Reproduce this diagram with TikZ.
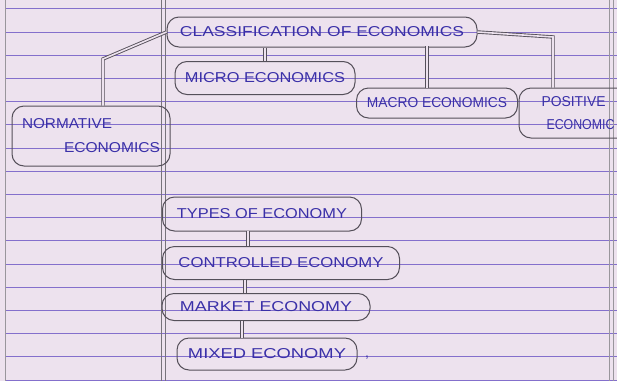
\documentclass[tikz,border=0pt]{standalone}
\usepackage{fontspec}
\setmainfont{Liberation Sans}
\usepackage{graphicx}
\definecolor{paper}{HTML}{EDE2EE}
\definecolor{rule}{HTML}{8470CC}
\definecolor{ink}{HTML}{3A30A8}
\definecolor{pencil}{HTML}{55505A}
\newcommand{\hw}[2]{\resizebox{#1pt}{10pt}{#2}}
\tikzset{
  blob/.style={draw=pencil, line width=1pt, rounded corners=12pt, inner sep=0pt, text=ink, align=center},
  conn/.style={draw=pencil, line width=0.9pt, double=paper, double distance=1.6pt},
  ruled/.style={draw=rule, line width=1pt},
  margin/.style={draw=pencil!80, line width=0.9pt}
}
\begin{document}
\begin{tikzpicture}[x=1pt,y=-1pt]
\useasboundingbox (0,0) rectangle (617,381);
\clip (0,0) rectangle (617,381);
\fill[paper] (0,0) rectangle (617,381);
% ruled lines
\foreach \n in {0,...,16} {
  \draw[ruled] (5,{8.8+23.2*\n}) -- (617,{8.8+23.2*\n});
}
% vertical lines
\draw[pencil!60, line width=0.7pt] (5,0) -- (5,381);
\draw[margin] (161,0) -- (161,381);
\draw[margin] (165,0) -- (165,381);
\draw[pencil!60, line width=0.7pt] (609,0) -- (609,381);
\draw[pencil!60, line width=0.7pt] (613,0) -- (613,381);

% nodes
\node[blob, minimum width=310pt, minimum height=30pt] (cls) at (322,32) {\hw{284}{CLASSIFICATION OF ECONOMICS}};
\node[blob, minimum width=180pt, minimum height=33pt] (micro) at (265,78) {\hw{160}{MICRO ECONOMICS}};
\node[blob, minimum width=161pt, minimum height=30pt] (macro) at (437,103) {\hw{140}{MACRO ECONOMICS}};
\node[blob, minimum width=118pt, minimum height=50pt, align=left, font=\fontsize{14}{23}\selectfont] (pos) at (578,113) {\hw{64}{POSITIVE}\\\hspace*{5pt}\hw{68}{ECONOMIC}};
\node[blob, minimum width=158pt, minimum height=60pt, align=left, font=\fontsize{14}{24}\selectfont] (norm) at (91,136) {\hw{90}{NORMATIVE}\\\hspace*{42pt}\hw{96}{ECONOMICS}};

\node[blob, minimum width=199pt, minimum height=34pt] (types) at (262,214) {\hw{170}{TYPES OF ECONOMY}};
\node[blob, minimum width=237pt, minimum height=33pt] (ctrl) at (281,263) {\hw{205}{CONTROLLED ECONOMY}};
\node[blob, minimum width=208pt, minimum height=27pt] (mkt) at (266,307) {\hw{172}{MARKET ECONOMY}};
\node[blob, minimum width=180pt, minimum height=32pt] (mixed) at (267,354) {\hw{158}{MIXED ECONOMY}};
\node[text=ink, font=\fontsize{14}{14}\selectfont, inner sep=0pt] (comma) at (367,358) {,};

% connectors
\coordinate (nb) at (103,59);
\draw[conn] (cls.west) -- (nb) -- (nb |- norm.north);
\draw[conn] (micro.north |- cls.south) -- (micro.north);
\coordinate (ma) at (427,46);
\draw[conn] (ma) -- (ma |- macro.north);
\coordinate (pb) at (553,37);
\draw[conn] (cls.east) -- (pb) -- (pb |- pos.north);

\coordinate (t1) at (248,231);
\draw[conn] (t1) -- (t1 |- ctrl.north);
\coordinate (t2) at (245,279.5);
\draw[conn] (t2) -- (t2 |- mkt.north);
\coordinate (t3) at (242,320.5);
\draw[conn] (t3) -- (t3 |- mixed.north);
\end{tikzpicture}
\end{document}
